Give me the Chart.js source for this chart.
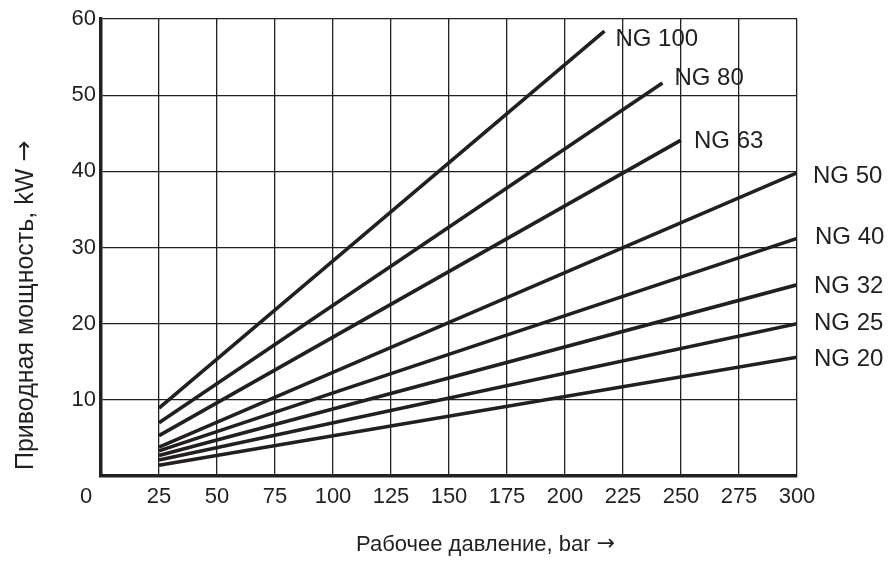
<!DOCTYPE html>
<html>
<head>
<meta charset="utf-8">
<script src="https://cdn.jsdelivr.net/npm/chart.js"></script>
<style>
  body { margin: 0; background: #fff; }
  #wrap { width: 889px; height: 563px; }
</style>
</head>
<body>
<div id="wrap"><canvas id="myChart"></canvas></div>
<script>
// Data
const sizes = ['NG 100', 'NG 80', 'NG 63', 'NG 50', 'NG 40', 'NG 32', 'NG 25', 'NG 20'];
const pressureStart = [25, 25, 25, 25, 25, 25, 25, 25];
const pressureEnd = [217, 242, 250, 300, 300, 300, 300, 300];
const powerStart = [8.9, 7.0, 5.3, 3.8, 3.3, 2.7, 2.1, 1.4];
const powerEnd = [58.4, 51.6, 44.1, 39.8, 31.2, 25.1, 20.0, 15.6];

const xTitle = 'Рабочее давление, bar';
const yTitle = 'Приводная мощность, kW';
const arrow = '→';

// label offsets from line end (style only)
const labelDx = [11, 12, 13, 16, 18, 17, 17, 17];
const labelDy = [8, -5, 1, 4, -1, 2, 0, 2];

const ink = '#231f20';
const fontFam = '"Liberation Sans", Arial, sans-serif';
const arrowFam = '"DejaVu Sans", sans-serif';

const datasets = sizes.map((name, i) => ({
    label: name,
    data: [
        { x: pressureStart[i], y: powerStart[i] },
        { x: pressureEnd[i], y: powerEnd[i] }
    ],
    showLine: true,
    borderColor: ink,
    borderWidth: 3.6,
    pointRadius: 0,
    fill: false
}));

// title text followed by a long arrow
function drawTitle(ctx, text, size) {
    ctx.font = size + 'px ' + fontFam;
    ctx.fillText(text, 0, 0);
    const w = ctx.measureText(text + ' ').width;
    ctx.font = size + 'px ' + arrowFam;
    ctx.fillText(arrow, w, -1);
}

// draws the NG labels, the shifted "0" and the axis titles
const textPlugin = {
    id: 'textPlugin',
    afterDraw(chart) {
        const ctx = chart.ctx;
        const xs = chart.scales.x;
        const ys = chart.scales.y;
        ctx.save();
        ctx.fillStyle = ink;
        ctx.font = '24px ' + fontFam;
        ctx.textAlign = 'left';
        ctx.textBaseline = 'middle';
        sizes.forEach((name, i) => {
            const px = xs.getPixelForValue(pressureEnd[i]);
            const py = ys.getPixelForValue(powerEnd[i]);
            ctx.fillText(name, px + labelDx[i], py + labelDy[i]);
        });

        ctx.font = '22px ' + fontFam;
        ctx.textAlign = 'center';
        ctx.textBaseline = 'top';
        ctx.fillText('0', xs.getPixelForValue(0) - 15, chart.chartArea.bottom + 10);

        ctx.textAlign = 'left';
        ctx.textBaseline = 'alphabetic';

        // x title
        ctx.save();
        ctx.translate(356, 551);
        drawTitle(ctx, xTitle, 22);
        ctx.restore();

        // y title
        ctx.save();
        ctx.translate(33, 470);
        ctx.rotate(-Math.PI / 2);
        drawTitle(ctx, yTitle, 25);
        ctx.restore();

        ctx.restore();
    }
};

const myChart = new Chart(document.getElementById('myChart'), {
    type: 'scatter',
    data: { datasets: datasets },
    options: {
        responsive: true,
        maintainAspectRatio: false,
        animation: false,
        layout: { padding: { top: 19, right: 92, left: 0, bottom: 0 } },
        plugins: {
            legend: { display: false },
            tooltip: { enabled: false }
        },
        scales: {
            x: {
                type: 'linear',
                min: 0,
                max: 300,
                afterFit: (scale) => { scale.height = 87; },
                ticks: {
                    stepSize: 25,
                    color: ink,
                    padding: 8,
                    maxRotation: 0,
                    autoSkip: false,
                    font: { family: fontFam, size: 22 },
                    callback: (v) => v === 0 ? '' : v
                },
                grid: { color: ink, lineWidth: 1.3, drawTicks: false },
                border: { color: ink, width: 3.5 }
            },
            y: {
                type: 'linear',
                min: 0,
                max: 60,
                afterFit: (scale) => { scale.width = 101; },
                ticks: {
                    stepSize: 10,
                    color: ink,
                    padding: 5,
                    font: { family: fontFam, size: 22 },
                    callback: (v) => v === 0 ? '' : v
                },
                grid: { color: ink, lineWidth: 1.3, drawTicks: false },
                border: { color: ink, width: 3.5 }
            }
        }
    },
    plugins: [textPlugin]
});
</script>
</body>
</html>
